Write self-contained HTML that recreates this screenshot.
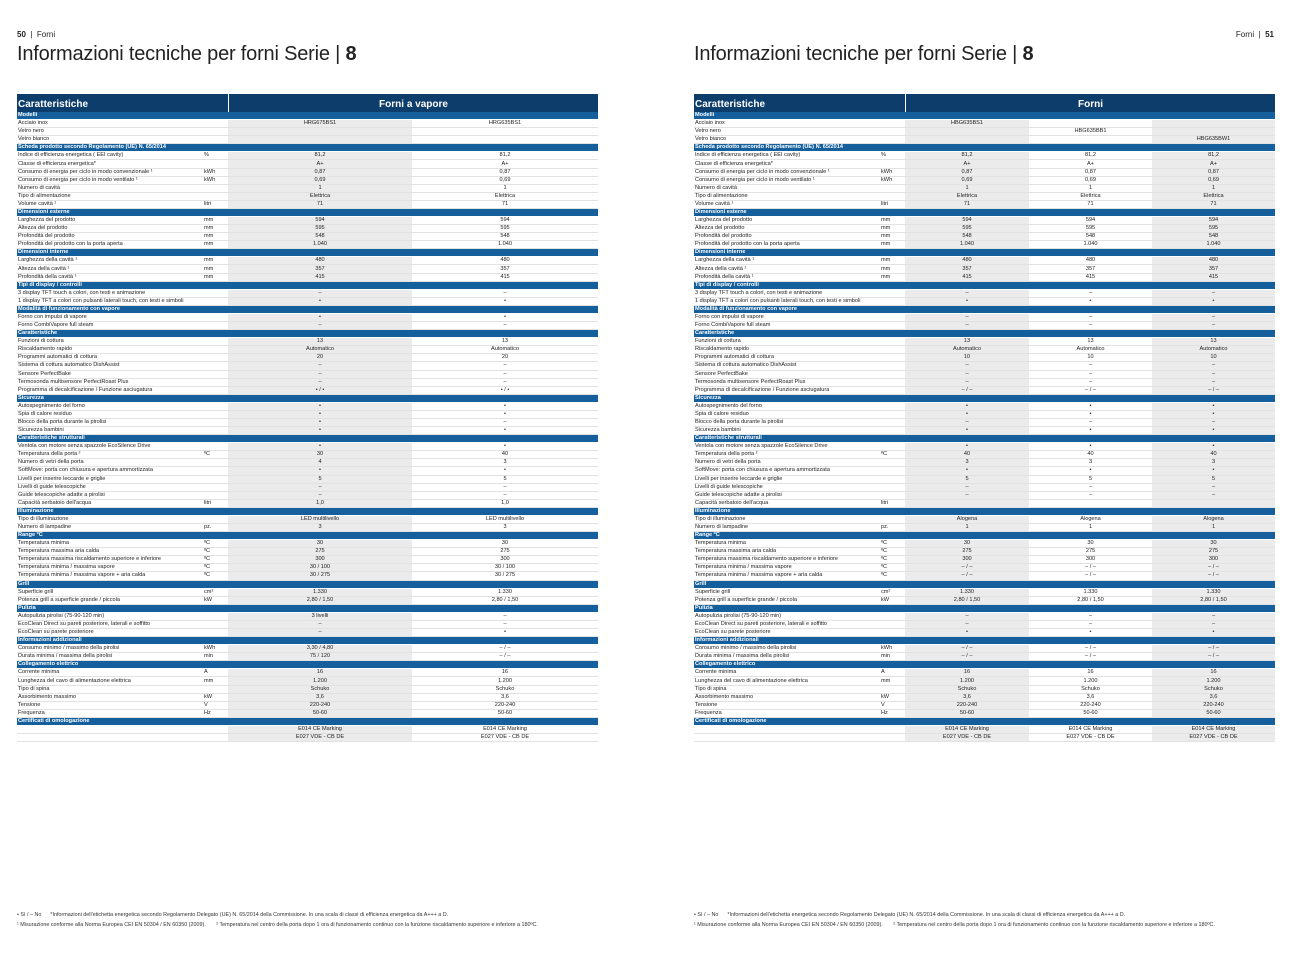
<!DOCTYPE html>
<html><head><meta charset="utf-8">
<style>
*{margin:0;padding:0;box-sizing:border-box}
body{width:1292px;height:959px;background:#fff;position:relative;font-family:"Liberation Sans",sans-serif;color:#222;overflow:hidden}
.pg{position:absolute;top:30px;font-size:8px}
.ttl{position:absolute;top:43px;font-size:20px;color:#222;letter-spacing:-0.2px}
table{position:absolute;top:94px;border-collapse:separate;border-spacing:0;table-layout:fixed;font-size:5.6px;line-height:7px}
td{padding:0 1px;white-space:nowrap;overflow:hidden;border-bottom:1px solid #e2e2e2;height:8.08px}
tr.h td{height:18px;background:#0c3d6b;color:#fff;font-weight:bold;font-size:10px;border:none;line-height:18px}
tr.h td span{position:relative;top:1.5px}
tr.h td.c{text-align:center;border-left:1px solid #fff}
tr.s td{background:#145f9c;color:#fff;font-weight:bold;border-bottom:1px solid #fff}
td:nth-child(n+3){text-align:center}
.fn{position:absolute;font-size:5.4px;color:#333;line-height:10px}
</style></head><body>
<div class="pg" style="left:17px"><b>50</b> &nbsp;|&nbsp; Forni</div>
<div class="ttl" style="left:17px">Informazioni tecniche per forni Serie | <b>8</b></div>
<div class="pg" style="right:18px">Forni &nbsp;|&nbsp; <b>51</b></div>
<div class="ttl" style="left:694px">Informazioni tecniche per forni Serie | <b>8</b></div>

<table style="left:17px;width:581px">
<colgroup><col style="width:186px"><col style="width:25px"><col style="width:184px;background:#ebebeb"><col style="width:186px"></colgroup>
<tr class="h"><td colspan="2"><span>Caratteristiche</span></td><td class="c" colspan="2"><span>Forni a vapore</span></td></tr>
<tr class="s"><td colspan="4">Modelli</td></tr>
<tr><td>Acciaio inox</td><td></td><td>HRG675BS1</td><td>HRG635BS1</td></tr>
<tr><td>Vetro nero</td><td></td><td></td><td></td></tr>
<tr><td>Vetro bianco</td><td></td><td></td><td></td></tr>
<tr class="s"><td colspan="4">Scheda prodotto secondo Regolamento (UE) N. 65/2014</td></tr>
<tr><td>Indice di efficienza energetica ( EEI cavity)</td><td>%</td><td>81,2</td><td>81,2</td></tr>
<tr><td>Classe di efficienza energetica*</td><td></td><td>A+</td><td>A+</td></tr>
<tr><td>Consumo di energia per ciclo in modo convenzionale ¹</td><td>kWh</td><td>0,87</td><td>0,87</td></tr>
<tr><td>Consumo di energia per ciclo in modo ventilato ¹</td><td>kWh</td><td>0,69</td><td>0,69</td></tr>
<tr><td>Numero di cavità</td><td></td><td>1</td><td>1</td></tr>
<tr><td>Tipo di alimentazione</td><td></td><td>Elettrica</td><td>Elettrica</td></tr>
<tr><td>Volume cavità ¹</td><td>litri</td><td>71</td><td>71</td></tr>
<tr class="s"><td colspan="4">Dimensioni esterne</td></tr>
<tr><td>Larghezza del prodotto</td><td>mm</td><td>594</td><td>594</td></tr>
<tr><td>Altezza del prodotto</td><td>mm</td><td>595</td><td>595</td></tr>
<tr><td>Profondità del prodotto</td><td>mm</td><td>548</td><td>548</td></tr>
<tr><td>Profondità del prodotto con la porta aperta</td><td>mm</td><td>1.040</td><td>1.040</td></tr>
<tr class="s"><td colspan="4">Dimensioni interne</td></tr>
<tr><td>Larghezza della cavità ¹</td><td>mm</td><td>480</td><td>480</td></tr>
<tr><td>Altezza della cavità ¹</td><td>mm</td><td>357</td><td>357</td></tr>
<tr><td>Profondità della cavità ¹</td><td>mm</td><td>415</td><td>415</td></tr>
<tr class="s"><td colspan="4">Tipi di display / controlli</td></tr>
<tr><td>3 display TFT touch a colori, con testi e animazione</td><td></td><td>–</td><td>–</td></tr>
<tr><td>1 display TFT a colori con pulsanti laterali touch, con testi e simboli</td><td></td><td>•</td><td>•</td></tr>
<tr class="s"><td colspan="4">Modalità di funzionamento con vapore</td></tr>
<tr><td>Forno con impulsi di vapore</td><td></td><td>•</td><td>•</td></tr>
<tr><td>Forno CombiVapore full steam</td><td></td><td>–</td><td>–</td></tr>
<tr class="s"><td colspan="4">Caratteristiche</td></tr>
<tr><td>Funzioni di cottura</td><td></td><td>13</td><td>13</td></tr>
<tr><td>Riscaldamento rapido</td><td></td><td>Automatico</td><td>Automatico</td></tr>
<tr><td>Programmi automatici di cottura</td><td></td><td>20</td><td>20</td></tr>
<tr><td>Sistema di cottura automatico DishAssist</td><td></td><td>–</td><td>–</td></tr>
<tr><td>Sensore PerfectBake</td><td></td><td>–</td><td>–</td></tr>
<tr><td>Termosonda multisensore PerfectRoast Plus</td><td></td><td>–</td><td>–</td></tr>
<tr><td>Programma di decalcificazione / Funzione asciugatura</td><td></td><td>• / •</td><td>• / •</td></tr>
<tr class="s"><td colspan="4">Sicurezza</td></tr>
<tr><td>Autospegnimento del forno</td><td></td><td>•</td><td>•</td></tr>
<tr><td>Spia di calore residuo</td><td></td><td>•</td><td>•</td></tr>
<tr><td>Blocco della porta durante la pirolisi</td><td></td><td>•</td><td>–</td></tr>
<tr><td>Sicurezza bambini</td><td></td><td>•</td><td>•</td></tr>
<tr class="s"><td colspan="4">Caratteristiche strutturali</td></tr>
<tr><td>Ventola con motore senza spazzole EcoSilence Drive</td><td></td><td>•</td><td>•</td></tr>
<tr><td>Temperatura della porta ²</td><td>ºC</td><td>30</td><td>40</td></tr>
<tr><td>Numero di vetri della porta</td><td></td><td>4</td><td>3</td></tr>
<tr><td>SoftMove: porta con chiusura e apertura ammortizzata</td><td></td><td>•</td><td>•</td></tr>
<tr><td>Livelli per inserire leccarde e griglie</td><td></td><td>5</td><td>5</td></tr>
<tr><td>Livelli di guide telescopiche</td><td></td><td>–</td><td>–</td></tr>
<tr><td>Guide telescopiche adatte a pirolisi</td><td></td><td>–</td><td>–</td></tr>
<tr><td>Capacità serbatoio dell'acqua</td><td>litri</td><td>1,0</td><td>1,0</td></tr>
<tr class="s"><td colspan="4">Illuminazione</td></tr>
<tr><td>Tipo di illuminazione</td><td></td><td>LED multilivello</td><td>LED multilivello</td></tr>
<tr><td>Numero di lampadine</td><td>pz.</td><td>3</td><td>3</td></tr>
<tr class="s"><td colspan="4">Range ºC</td></tr>
<tr><td>Temperatura minima</td><td>ºC</td><td>30</td><td>30</td></tr>
<tr><td>Temperatura massima aria calda</td><td>ºC</td><td>275</td><td>275</td></tr>
<tr><td>Temperatura massima riscaldamento superiore e inferiore</td><td>ºC</td><td>300</td><td>300</td></tr>
<tr><td>Temperatura minima / massima vapore</td><td>ºC</td><td>30 / 100</td><td>30 / 100</td></tr>
<tr><td>Temperatura minima / massima vapore + aria calda</td><td>ºC</td><td>30 / 275</td><td>30 / 275</td></tr>
<tr class="s"><td colspan="4">Grill</td></tr>
<tr><td>Superficie grill</td><td>cm²</td><td>1.330</td><td>1.330</td></tr>
<tr><td>Potenza grill a superficie grande / piccola</td><td>kW</td><td>2,80 / 1,50</td><td>2,80 / 1,50</td></tr>
<tr class="s"><td colspan="4">Pulizia</td></tr>
<tr><td>Autopulizia pirolisi (75-90-120 min)</td><td></td><td>3 livelli</td><td>–</td></tr>
<tr><td>EcoClean Direct su pareti posteriore, laterali e soffitto</td><td></td><td>–</td><td>–</td></tr>
<tr><td>EcoClean su parete posteriore</td><td></td><td>–</td><td>•</td></tr>
<tr class="s"><td colspan="4">Informazioni addizionali</td></tr>
<tr><td>Consumo minimo / massimo della pirolisi</td><td>kWh</td><td>3,30 / 4,80</td><td>– / –</td></tr>
<tr><td>Durata minima / massima della pirolisi</td><td>min</td><td>75 / 120</td><td>– / –</td></tr>
<tr class="s"><td colspan="4">Collegamento elettrico</td></tr>
<tr><td>Corrente minima</td><td>A</td><td>16</td><td>16</td></tr>
<tr><td>Lunghezza del cavo di alimentazione elettrica</td><td>mm</td><td>1.200</td><td>1.200</td></tr>
<tr><td>Tipo di spina</td><td></td><td>Schuko</td><td>Schuko</td></tr>
<tr><td>Assorbimento massimo</td><td>kW</td><td>3,6</td><td>3,6</td></tr>
<tr><td>Tensione</td><td>V</td><td>220-240</td><td>220-240</td></tr>
<tr><td>Frequenza</td><td>Hz</td><td>50-60</td><td>50-60</td></tr>
<tr class="s"><td colspan="4">Certificati di omologazione</td></tr>
<tr><td></td><td></td><td>E014 CE Marking</td><td>E014 CE Marking</td></tr>
<tr><td></td><td></td><td>E027 VDE - CB DE</td><td>E027 VDE - CB DE</td></tr>
</table>

<table style="left:694px;width:581px">
<colgroup><col style="width:186px"><col style="width:25px"><col style="width:124px;background:#ebebeb"><col style="width:123px"><col style="width:123px;background:#ebebeb"></colgroup>
<tr class="h"><td colspan="2"><span>Caratteristiche</span></td><td class="c" colspan="3"><span>Forni</span></td></tr>
<tr class="s"><td colspan="5">Modelli</td></tr>
<tr><td>Acciaio inox</td><td></td><td>HBG635BS1</td><td></td><td></td></tr>
<tr><td>Vetro nero</td><td></td><td></td><td>HBG635BB1</td><td></td></tr>
<tr><td>Vetro bianco</td><td></td><td></td><td></td><td>HBG635BW1</td></tr>
<tr class="s"><td colspan="5">Scheda prodotto secondo Regolamento (UE) N. 65/2014</td></tr>
<tr><td>Indice di efficienza energetica ( EEI cavity)</td><td>%</td><td>81,2</td><td>81,2</td><td>81,2</td></tr>
<tr><td>Classe di efficienza energetica*</td><td></td><td>A+</td><td>A+</td><td>A+</td></tr>
<tr><td>Consumo di energia per ciclo in modo convenzionale ¹</td><td>kWh</td><td>0,87</td><td>0,87</td><td>0,87</td></tr>
<tr><td>Consumo di energia per ciclo in modo ventilato ¹</td><td>kWh</td><td>0,69</td><td>0,69</td><td>0,69</td></tr>
<tr><td>Numero di cavità</td><td></td><td>1</td><td>1</td><td>1</td></tr>
<tr><td>Tipo di alimentazione</td><td></td><td>Elettrica</td><td>Elettrica</td><td>Elettrica</td></tr>
<tr><td>Volume cavità ¹</td><td>litri</td><td>71</td><td>71</td><td>71</td></tr>
<tr class="s"><td colspan="5">Dimensioni esterne</td></tr>
<tr><td>Larghezza del prodotto</td><td>mm</td><td>594</td><td>594</td><td>594</td></tr>
<tr><td>Altezza del prodotto</td><td>mm</td><td>595</td><td>595</td><td>595</td></tr>
<tr><td>Profondità del prodotto</td><td>mm</td><td>548</td><td>548</td><td>548</td></tr>
<tr><td>Profondità del prodotto con la porta aperta</td><td>mm</td><td>1.040</td><td>1.040</td><td>1.040</td></tr>
<tr class="s"><td colspan="5">Dimensioni interne</td></tr>
<tr><td>Larghezza della cavità ¹</td><td>mm</td><td>480</td><td>480</td><td>480</td></tr>
<tr><td>Altezza della cavità ¹</td><td>mm</td><td>357</td><td>357</td><td>357</td></tr>
<tr><td>Profondità della cavità ¹</td><td>mm</td><td>415</td><td>415</td><td>415</td></tr>
<tr class="s"><td colspan="5">Tipi di display / controlli</td></tr>
<tr><td>3 display TFT touch a colori, con testi e animazione</td><td></td><td>–</td><td>–</td><td>–</td></tr>
<tr><td>1 display TFT a colori con pulsanti laterali touch, con testi e simboli</td><td></td><td>•</td><td>•</td><td>•</td></tr>
<tr class="s"><td colspan="5">Modalità di funzionamento con vapore</td></tr>
<tr><td>Forno con impulsi di vapore</td><td></td><td>–</td><td>–</td><td>–</td></tr>
<tr><td>Forno CombiVapore full steam</td><td></td><td>–</td><td>–</td><td>–</td></tr>
<tr class="s"><td colspan="5">Caratteristiche</td></tr>
<tr><td>Funzioni di cottura</td><td></td><td>13</td><td>13</td><td>13</td></tr>
<tr><td>Riscaldamento rapido</td><td></td><td>Automatico</td><td>Automatico</td><td>Automatico</td></tr>
<tr><td>Programmi automatici di cottura</td><td></td><td>10</td><td>10</td><td>10</td></tr>
<tr><td>Sistema di cottura automatico DishAssist</td><td></td><td>–</td><td>–</td><td>–</td></tr>
<tr><td>Sensore PerfectBake</td><td></td><td>–</td><td>–</td><td>–</td></tr>
<tr><td>Termosonda multisensore PerfectRoast Plus</td><td></td><td>–</td><td>–</td><td>–</td></tr>
<tr><td>Programma di decalcificazione / Funzione asciugatura</td><td></td><td>– / –</td><td>– / –</td><td>– / –</td></tr>
<tr class="s"><td colspan="5">Sicurezza</td></tr>
<tr><td>Autospegnimento del forno</td><td></td><td>•</td><td>•</td><td>•</td></tr>
<tr><td>Spia di calore residuo</td><td></td><td>•</td><td>•</td><td>•</td></tr>
<tr><td>Blocco della porta durante la pirolisi</td><td></td><td>–</td><td>–</td><td>–</td></tr>
<tr><td>Sicurezza bambini</td><td></td><td>•</td><td>•</td><td>•</td></tr>
<tr class="s"><td colspan="5">Caratteristiche strutturali</td></tr>
<tr><td>Ventola con motore senza spazzole EcoSilence Drive</td><td></td><td>•</td><td>•</td><td>•</td></tr>
<tr><td>Temperatura della porta ²</td><td>ºC</td><td>40</td><td>40</td><td>40</td></tr>
<tr><td>Numero di vetri della porta</td><td></td><td>3</td><td>3</td><td>3</td></tr>
<tr><td>SoftMove: porta con chiusura e apertura ammortizzata</td><td></td><td>•</td><td>•</td><td>•</td></tr>
<tr><td>Livelli per inserire leccarde e griglie</td><td></td><td>5</td><td>5</td><td>5</td></tr>
<tr><td>Livelli di guide telescopiche</td><td></td><td>–</td><td>–</td><td>–</td></tr>
<tr><td>Guide telescopiche adatte a pirolisi</td><td></td><td>–</td><td>–</td><td>–</td></tr>
<tr><td>Capacità serbatoio dell'acqua</td><td>litri</td><td></td><td></td><td></td></tr>
<tr class="s"><td colspan="5">Illuminazione</td></tr>
<tr><td>Tipo di illuminazione</td><td></td><td>Alogena</td><td>Alogena</td><td>Alogena</td></tr>
<tr><td>Numero di lampadine</td><td>pz.</td><td>1</td><td>1</td><td>1</td></tr>
<tr class="s"><td colspan="5">Range ºC</td></tr>
<tr><td>Temperatura minima</td><td>ºC</td><td>30</td><td>30</td><td>30</td></tr>
<tr><td>Temperatura massima aria calda</td><td>ºC</td><td>275</td><td>275</td><td>275</td></tr>
<tr><td>Temperatura massima riscaldamento superiore e inferiore</td><td>ºC</td><td>300</td><td>300</td><td>300</td></tr>
<tr><td>Temperatura minima / massima vapore</td><td>ºC</td><td>– / –</td><td>– / –</td><td>– / –</td></tr>
<tr><td>Temperatura minima / massima vapore + aria calda</td><td>ºC</td><td>– / –</td><td>– / –</td><td>– / –</td></tr>
<tr class="s"><td colspan="5">Grill</td></tr>
<tr><td>Superficie grill</td><td>cm²</td><td>1.330</td><td>1.330</td><td>1.330</td></tr>
<tr><td>Potenza grill a superficie grande / piccola</td><td>kW</td><td>2,80 / 1,50</td><td>2,80 / 1,50</td><td>2,80 / 1,50</td></tr>
<tr class="s"><td colspan="5">Pulizia</td></tr>
<tr><td>Autopulizia pirolisi (75-90-120 min)</td><td></td><td>–</td><td>–</td><td>–</td></tr>
<tr><td>EcoClean Direct su pareti posteriore, laterali e soffitto</td><td></td><td>–</td><td>–</td><td>–</td></tr>
<tr><td>EcoClean su parete posteriore</td><td></td><td>•</td><td>•</td><td>•</td></tr>
<tr class="s"><td colspan="5">Informazioni addizionali</td></tr>
<tr><td>Consumo minimo / massimo della pirolisi</td><td>kWh</td><td>– / –</td><td>– / –</td><td>– / –</td></tr>
<tr><td>Durata minima / massima della pirolisi</td><td>min</td><td>– / –</td><td>– / –</td><td>– / –</td></tr>
<tr class="s"><td colspan="5">Collegamento elettrico</td></tr>
<tr><td>Corrente minima</td><td>A</td><td>16</td><td>16</td><td>16</td></tr>
<tr><td>Lunghezza del cavo di alimentazione elettrica</td><td>mm</td><td>1.200</td><td>1.200</td><td>1.200</td></tr>
<tr><td>Tipo di spina</td><td></td><td>Schuko</td><td>Schuko</td><td>Schuko</td></tr>
<tr><td>Assorbimento massimo</td><td>kW</td><td>3,6</td><td>3,6</td><td>3,6</td></tr>
<tr><td>Tensione</td><td>V</td><td>220-240</td><td>220-240</td><td>220-240</td></tr>
<tr><td>Frequenza</td><td>Hz</td><td>50-60</td><td>50-60</td><td>50-60</td></tr>
<tr class="s"><td colspan="5">Certificati di omologazione</td></tr>
<tr><td></td><td></td><td>E014 CE Marking</td><td>E014 CE Marking</td><td>E014 CE Marking</td></tr>
<tr><td></td><td></td><td>E027 VDE - CB DE</td><td>E027 VDE - CB DE</td><td>E027 VDE - CB DE</td></tr>
</table>

<div class="fn" style="left:17px;top:910px">• Sì / – No &nbsp;&nbsp;&nbsp;&nbsp; *Informazioni dell'etichetta energetica secondo Regolamento Delegato (UE) N. 65/2014 della Commissione. In una scala di classi di efficienza energetica da A+++ a D.<br>¹ Misurazione conforme alla Norma Europea CEI EN 50304 / EN 60350 (2009). &nbsp;&nbsp;&nbsp;&nbsp;&nbsp; ² Temperatura nel centro della porta dopo 1 ora di funzionamento continuo con la funzione riscaldamento superiore e inferiore a 180ºC.</div>
<div class="fn" style="left:694px;top:910px">• Sì / – No &nbsp;&nbsp;&nbsp;&nbsp; *Informazioni dell'etichetta energetica secondo Regolamento Delegato (UE) N. 65/2014 della Commissione. In una scala di classi di efficienza energetica da A+++ a D.<br>¹ Misurazione conforme alla Norma Europea CEI EN 50304 / EN 60350 (2009). &nbsp;&nbsp;&nbsp;&nbsp;&nbsp; ² Temperatura nel centro della porta dopo 1 ora di funzionamento continuo con la funzione riscaldamento superiore e inferiore a 180ºC.</div>
</body></html>
